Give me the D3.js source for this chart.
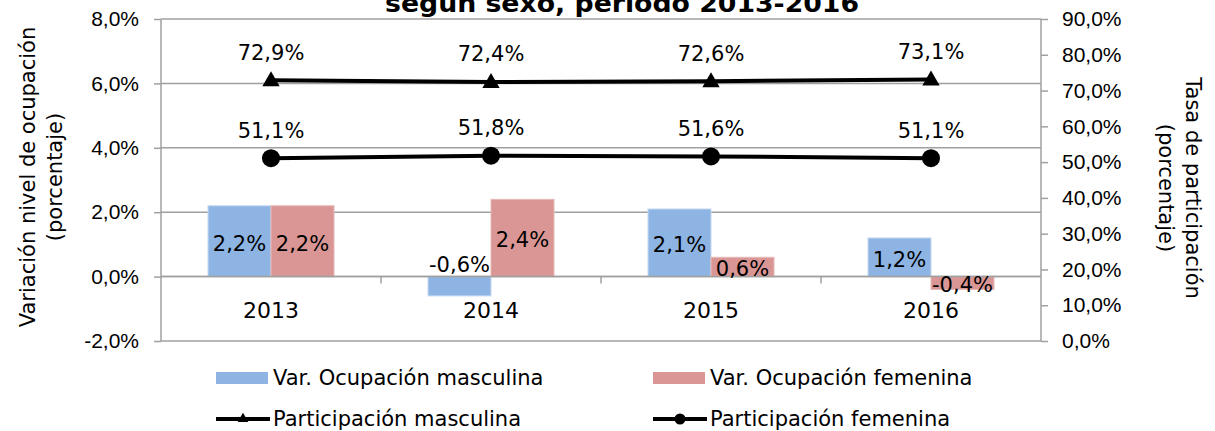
<!DOCTYPE html>
<html>
<head>
<meta charset="utf-8">
<script src="https://cdn.jsdelivr.net/npm/d3@7"></script>
<style>
  body { margin: 0; background: #fff; }
  svg { display: block; font-family: "DejaVu Sans", Verdana, sans-serif; }
  .tick text { font-size: 21px; fill: #000; }
</style>
</head>
<body>
<div id="dataviz"></div>
<script>
// data
var years = ["2013", "2014", "2015", "2016"];
var varMasculina = [2.2, -0.6, 2.1, 1.2];
var varFemenina = [2.2, 2.4, 0.6, -0.4];
var partMasculina = [72.9, 72.4, 72.6, 73.1];
var partFemenina = [51.1, 51.8, 51.6, 51.1];
var leftTicks = [-2, 0, 2, 4, 6, 8];
var rightTicks = [0, 10, 20, 30, 40, 50, 60, 70, 80, 90];

var W = 1215, H = 431;
var margin = {top: 19, right: 174, bottom: 90, left: 161};
var width = W - margin.left - margin.right;   // 880
var height = H - margin.top - margin.bottom;  // 322

var grey = "#a0a0a0";
var blue = "#8db4e2";
var red = "#d99694";
// comma decimals and a plain hyphen for negatives, as in the original
var fmt = function(v) { return d3.format(".1f")(v).replace(".", ",").replace("\u2212", "-") + "%"; };

var svg = d3.select("#dataviz")
  .append("svg")
    .attr("width", W)
    .attr("height", H);

var g = svg.append("g")
    .attr("transform", "translate(" + margin.left + "," + margin.top + ")");

// scales
var x = d3.scaleBand().domain(years).range([0, width]);
var barW = 63;
var xs = d3.scaleBand().domain(["m", "f"]).range([0, barW * 2]);
var yL = d3.scaleLinear().domain([-2, 8]).range([height, 0]);
var yR = d3.scaleLinear().domain([0, 90]).range([height, 0]);

// gridlines
g.selectAll(".grid")
  .data(leftTicks)
  .enter()
  .append("line")
    .attr("x1", 0)
    .attr("x2", width)
    .attr("y1", function(d) { return yL(d); })
    .attr("y2", function(d) { return yL(d); })
    .attr("stroke", grey)
    .attr("stroke-width", 1.5);

// left axis
var leftAxis = g.append("g")
  .call(d3.axisLeft(yL).tickValues(leftTicks).tickSize(7).tickPadding(15).tickFormat(fmt));
leftAxis.selectAll("line, path").attr("stroke", grey).attr("stroke-width", 1.5);
leftAxis.select(".domain").attr("d", "M0," + height + "V0");

// right axis
var rightAxis = g.append("g")
  .attr("transform", "translate(" + width + ",0)")
  .call(d3.axisRight(yR).tickValues(rightTicks).tickSize(7).tickPadding(14).tickFormat(fmt));
rightAxis.selectAll("line, path").attr("stroke", grey).attr("stroke-width", 1.5);
rightAxis.select(".domain").attr("d", "M0," + height + "V0");

// bars
var barData = [];
years.forEach(function(yr, i) {
  barData.push({year: yr, key: "m", value: varMasculina[i], color: blue, edge: "#c6d9f1"});
  barData.push({year: yr, key: "f", value: varFemenina[i], color: red, edge: "#e6b9b8"});
});
var off = (x.bandwidth() - barW * 2) / 2;

g.selectAll(".bar")
  .data(barData)
  .enter()
  .append("rect")
    .attr("class", "bar")
    .attr("x", function(d) { return x(d.year) + off + xs(d.key); })
    .attr("y", function(d) { return yL(Math.max(0, d.value)); })
    .attr("width", xs.bandwidth())
    .attr("height", function(d) { return Math.abs(yL(d.value) - yL(0)); })
    .attr("fill", function(d) { return d.color; })
    .attr("stroke", function(d) { return d.edge; })
    .attr("stroke-width", 1);

// category axis at zero
var catAxis = g.append("g")
  .attr("transform", "translate(0," + yL(0) + ")");
catAxis.append("line")
  .attr("x1", 0).attr("x2", width)
  .attr("stroke", grey).attr("stroke-width", 1.5);
catAxis.selectAll(".ctick")
  .data(years.slice(1))
  .enter()
  .append("line")
    .attr("x1", function(d) { return x(d); })
    .attr("x2", function(d) { return x(d); })
    .attr("y1", 0).attr("y2", 7)
    .attr("stroke", grey).attr("stroke-width", 1.5);
catAxis.selectAll(".clabel")
  .data(years)
  .enter()
  .append("text")
    .attr("x", function(d) { return x(d) + x.bandwidth() / 2; })
    .attr("y", 41)
    .attr("text-anchor", "middle")
    .style("font-size", "22px")
    .text(function(d) { return d; });

// bar labels (centred in the bar; the small negative masculine bar gets its label above the axis)
g.selectAll(".barlabel")
  .data(barData)
  .enter()
  .append("text")
    .attr("x", function(d) { return x(d.year) + off + xs(d.key) + xs.bandwidth() / 2; })
    .attr("y", function(d) {
      if (d.value < 0 && d.key == "m") return yL(0) - 12;
      return (yL(d.value) + yL(0)) / 2 + 2;
    })
    .attr("dy", "0.35em")
    .attr("text-anchor", "middle")
    .style("font-size", "21px")
    .text(function(d) { return fmt(d.value); });

// participation lines
var line = d3.line()
  .x(function(d, i) { return x(years[i]) + x.bandwidth() / 2; })
  .y(function(d) { return yR(d); });

[partMasculina, partFemenina].forEach(function(series) {
  g.append("path")
    .datum(series)
    .attr("fill", "none")
    .attr("stroke", "#000")
    .attr("stroke-width", 4)
    .attr("d", line);
});

g.selectAll(".tri")
  .data(partMasculina)
  .enter()
  .append("path")
    .attr("d", d3.symbol().type(d3.symbolTriangle).size(130))
    .attr("transform", function(d, i) { return "translate(" + (x(years[i]) + x.bandwidth() / 2) + "," + (yR(d) + 1) + ")"; })
    .attr("fill", "#000");

g.selectAll(".dot")
  .data(partFemenina)
  .enter()
  .append("circle")
    .attr("cx", function(d, i) { return x(years[i]) + x.bandwidth() / 2; })
    .attr("cy", function(d) { return yR(d); })
    .attr("r", 9)
    .attr("fill", "#000");

[partMasculina, partFemenina].forEach(function(series) {
  g.selectAll(null)
    .data(series)
    .enter()
    .append("text")
      .attr("x", function(d, i) { return x(years[i]) + x.bandwidth() / 2; })
      .attr("y", function(d) { return yR(d) - 28; })
      .attr("dy", "0.35em")
      .attr("text-anchor", "middle")
      .style("font-size", "21px")
      .text(function(d) { return fmt(d); });
});

// title (only its last line shows, the rest lies above the frame)
svg.append("text")
  .attr("x", 622)
  .attr("y", 12)
  .attr("text-anchor", "middle")
  .attr("textLength", 474)
  .attr("lengthAdjust", "spacingAndGlyphs")
  .style("font-size", "24px")
  .style("font-weight", "bold")
  .text("según sexo, período 2013-2016");

// left axis title
var lt = svg.append("text")
  .attr("transform", "translate(28,177) rotate(-90)")
  .attr("text-anchor", "middle")
  .style("font-size", "21px");
lt.append("tspan").attr("x", 0).attr("dy", "0.35em").text("Variación nivel de ocupación");
lt.append("tspan").attr("x", 0).attr("dy", "1.25em").text("(porcentaje)");

// right axis title
var rt = svg.append("text")
  .attr("transform", "translate(1193,188) rotate(90)")
  .attr("text-anchor", "middle")
  .style("font-size", "21px");
rt.append("tspan").attr("x", 0).attr("dy", "0.35em").text("Tasa de participación");
rt.append("tspan").attr("x", 0).attr("dy", "1.25em").text("(porcentaje)");

// legend
var legend = [
  {label: "Var. Ocupación masculina", type: "bar", color: blue, x: 216, y: 378},
  {label: "Var. Ocupación femenina", type: "bar", color: red, x: 653, y: 378},
  {label: "Participación masculina", type: "tri", x: 216, y: 419},
  {label: "Participación femenina", type: "dot", x: 653, y: 419}
];
var lg = svg.selectAll(".legend")
  .data(legend)
  .enter()
  .append("g")
    .attr("transform", function(d) { return "translate(" + d.x + "," + d.y + ")"; });

lg.filter(function(d) { return d.type == "bar"; })
  .append("rect")
    .attr("x", 0).attr("y", -6)
    .attr("width", 52).attr("height", 12)
    .attr("fill", function(d) { return d.color; });

lg.filter(function(d) { return d.type != "bar"; })
  .append("line")
    .attr("x1", 0).attr("x2", 54)
    .attr("stroke", "#000").attr("stroke-width", 4);

lg.filter(function(d) { return d.type == "tri"; })
  .append("path")
    .attr("d", d3.symbol().type(d3.symbolTriangle).size(50))
    .attr("transform", "translate(27,0)")
    .attr("fill", "#000");

lg.filter(function(d) { return d.type == "dot"; })
  .append("circle")
    .attr("cx", 27).attr("r", 5.5)
    .attr("fill", "#000");

lg.append("text")
  .attr("x", 57)
  .attr("dy", "0.35em")
  .style("font-size", "21px")
  .text(function(d) { return d.label; });
</script>
</body>
</html>
